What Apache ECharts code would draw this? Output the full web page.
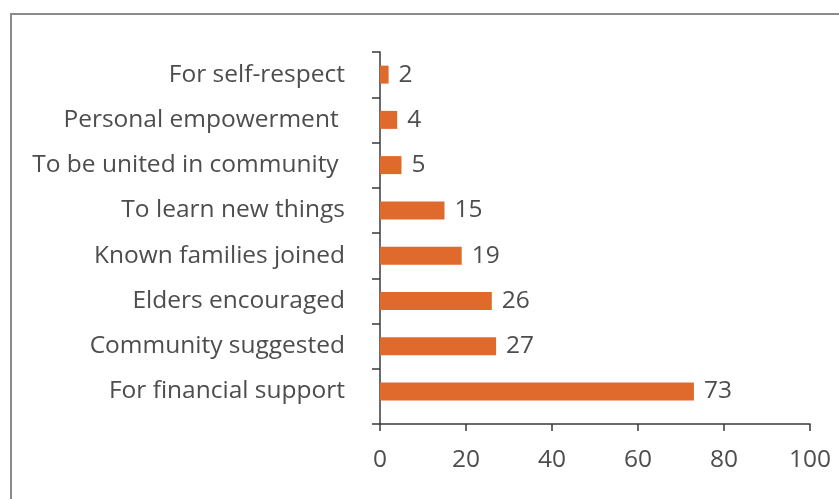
<!DOCTYPE html>
<html>
<head>
<meta charset="utf-8">
<script src="https://cdn.jsdelivr.net/npm/echarts@6/dist/echarts.min.js"></script>
<style>
  html, body { margin: 0; padding: 0; background: #fff; }
  #wrap { position: relative; width: 839px; height: 499px; overflow: hidden; }
  #frame { position: absolute; left: 10px; top: 13px; width: 900px; height: 600px;
           border: 2px solid #8a8a8a; box-sizing: border-box; }
  #chart { position: absolute; left: 0; top: 0; width: 839px; height: 499px; }
</style>
</head>
<body>
<div id="wrap">
  <div id="frame"></div>
  <div id="chart"></div>
</div>
<script>
// Reasons for joining, listed from the bottom bar upwards
const categories = [
  'For financial support',
  'Community suggested',
  'Elders encouraged',
  'Known families joined',
  'To learn new things',
  'To be united in community ',
  'Personal empowerment ',
  'For self-respect'
];
const counts = [73, 27, 26, 19, 15, 5, 4, 2];
const xTicks = [0, 20, 40, 60, 80, 100];

const textColor = '#4d4d4d';
const lineColor = '#3a3a3a';
const barColor = '#e06a2b';
const font = '"Open Sans", sans-serif';
const fontSize = 24.5;

const chart = echarts.init(document.getElementById('chart'), null, { renderer: 'canvas' });

const gridLeft = 380, gridRight = 29;

chart.setOption({
  animation: false,
  backgroundColor: 'transparent',
  grid: [
    // bars and category labels
    { left: gridLeft, right: gridRight, top: 52, height: 362 },
    // visible frame of the axes
    { left: gridLeft, right: gridRight, top: 52, height: 372 }
  ],
  xAxis: [
    { gridIndex: 0, type: 'value', min: xTicks[0], max: xTicks[xTicks.length - 1],
      show: false },
    { gridIndex: 1, type: 'value', min: xTicks[0], max: xTicks[xTicks.length - 1],
      interval: xTicks[1] - xTicks[0],
      axisLine: { show: true, lineStyle: { color: lineColor, width: 1.5 } },
      axisTick: { show: true, length: 7, lineStyle: { color: lineColor, width: 1.5 } },
      axisLabel: { color: textColor, fontFamily: font, fontSize: fontSize, margin: 24 },
      splitLine: { show: false } }
  ],
  yAxis: [
    { gridIndex: 0, type: 'category', data: categories,
      axisLine: { show: false },
      axisTick: { show: true, length: 8, inside: false,
                  interval: (i) => i !== 0,
                  lineStyle: { color: lineColor, width: 1.5 } },
      axisLabel: { color: textColor, fontFamily: font, fontSize: fontSize, margin: 35 } },
    { gridIndex: 1, type: 'value', min: 0, max: 1, interval: 1,
      axisLine: { show: true, lineStyle: { color: lineColor, width: 1.5 } },
      axisTick: { show: true, length: 8, lineStyle: { color: lineColor, width: 1.5 } },
      axisLabel: { show: false },
      splitLine: { show: false } }
  ],
  series: [{
    type: 'bar',
    xAxisIndex: 0,
    yAxisIndex: 0,
    data: counts,
    barWidth: 18,
    itemStyle: { color: barColor },
    label: {
      show: true,
      position: 'right',
      distance: 10,
      color: textColor,
      fontFamily: font,
      fontSize: fontSize
    }
  }]
});
</script>
</body>
</html>
